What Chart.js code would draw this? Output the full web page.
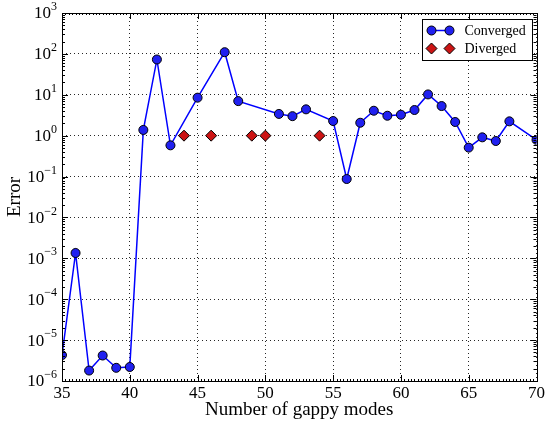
<!DOCTYPE html>
<html>
<head>
<meta charset="utf-8">
<script src="https://cdn.jsdelivr.net/npm/chart.js@4"></script>
<style>
  body { margin: 0; background: #fff; }
  canvas { display: block; }
</style>
</head>
<body>
<canvas id="gappyChart" width="547" height="422"></canvas>
<script>
const convergedModes = [35, 36, 37, 38, 39, 40, 41, 42, 43, 45, 47, 48, 51, 52, 53,
  55, 56, 57, 58, 59, 60, 61, 62, 63, 64, 65, 66, 67, 68, 70];
const convergedError = [4.3e-6, 1.35e-3, 1.8e-6, 4.2e-6, 2.1e-6, 2.2e-6, 1.38, 73, 0.58,
  8.5, 110, 7.0, 3.4, 3.0, 4.4, 2.28, 0.087, 2.07, 4.07, 3.07, 3.25, 4.24, 10.2, 5.3,
  2.16, 0.51, 0.91, 0.74, 2.24, 0.79];

const divergedModes = [44, 46, 49, 50, 54];
const divergedError = [1, 1, 1, 1, 1];

const modeTicks = [35, 40, 45, 50, 55, 60, 65, 70];
const errorTicks = [-6, -5, -4, -3, -2, -1, 0, 1, 2, 3];

const serif = "'Liberation Serif', 'DejaVu Serif', serif";
const blue = "#0000ff";
const red = "#cc1414";

// frame, inward ticks, superscript y labels and the legend box
const axesDecor = {
  id: "axesDecor",
  afterDraw(chart) {
    const { ctx, chartArea: a, scales: { x, y } } = chart;
    ctx.save();
    ctx.strokeStyle = "#000";
    ctx.lineWidth = 1;
    ctx.setLineDash([]);

    ctx.beginPath();
    // minor ticks along top and bottom
    for (let v = modeTicks[0]; v <= modeTicks[modeTicks.length - 1]; v += 0.25) {
      const px = Math.round(x.getPixelForValue(v)) + 0.5;
      ctx.moveTo(px, a.top); ctx.lineTo(px, a.top + 2);
      ctx.moveTo(px, a.bottom); ctx.lineTo(px, a.bottom - 2);
    }
    modeTicks.forEach((v) => {
      const px = Math.round(x.getPixelForValue(v)) + 0.5;
      ctx.moveTo(px, a.top); ctx.lineTo(px, a.top + 6);
      ctx.moveTo(px, a.bottom); ctx.lineTo(px, a.bottom - 6);
    });
    // decade and minor log ticks on the left and right
    errorTicks.forEach((d) => {
      const py = Math.round(y.getPixelForValue(Math.pow(10, d))) + 0.5;
      ctx.moveTo(a.left, py); ctx.lineTo(a.left + 6, py);
      ctx.moveTo(a.right, py); ctx.lineTo(a.right - 6, py);
      if (d === errorTicks[errorTicks.length - 1]) return;
      for (let k = 2; k <= 9; k++) {
        const my = Math.round(y.getPixelForValue(k * Math.pow(10, d))) + 0.5;
        ctx.moveTo(a.left, my); ctx.lineTo(a.left + 3, my);
        ctx.moveTo(a.right, my); ctx.lineTo(a.right - 3, my);
      }
    });
    ctx.stroke();
    ctx.strokeRect(Math.round(a.left) + 0.5, Math.round(a.top) + 0.5,
      Math.round(a.right - a.left), Math.round(a.bottom - a.top));

    // y tick labels as 10 with a superscript exponent
    ctx.fillStyle = "#000";
    ctx.textBaseline = "middle";
    ctx.textAlign = "left";
    errorTicks.forEach((d) => {
      const py = y.getPixelForValue(Math.pow(10, d));
      const exp = d < 0 ? "\u2212" + Math.abs(d) : String(d);
      ctx.font = "12px " + serif;
      const ew = ctx.measureText(exp).width;
      ctx.font = "17px " + serif;
      const bw = ctx.measureText("10").width;
      const right = a.left - 5;
      ctx.fillText("10", right - ew - bw, py + 1);
      ctx.font = "12px " + serif;
      ctx.fillText(exp, right - ew, py - 6);
    });

    // y axis title
    ctx.save();
    ctx.translate(15, (a.top + a.bottom) / 2);
    ctx.rotate(-Math.PI / 2);
    ctx.textAlign = "center";
    ctx.font = "19px " + serif;
    ctx.fillText("Error", 0, 0);
    ctx.restore();

    // legend
    const lx = 422.5, ly = 19.5, lw = 110, lh = 41;
    ctx.fillStyle = "#fff";
    ctx.fillRect(lx, ly, lw, lh);
    ctx.strokeRect(lx, ly, lw, lh);
    const rows = [
      { label: "Converged", y: ly + 11, kind: "circle" },
      { label: "Diverged", y: ly + 29, kind: "diamond" }
    ];
    rows.forEach((r) => {
      if (r.kind === "circle") {
        ctx.strokeStyle = blue;
        ctx.lineWidth = 1.5;
        ctx.beginPath();
        ctx.moveTo(lx + 9, r.y); ctx.lineTo(lx + 27, r.y);
        ctx.stroke();
      }
      [lx + 9, lx + 27].forEach((cx) => {
        ctx.beginPath();
        if (r.kind === "circle") {
          ctx.arc(cx, r.y, 4.5, 0, Math.PI * 2);
          ctx.fillStyle = "#2020f0";
        } else {
          ctx.moveTo(cx, r.y - 5.5); ctx.lineTo(cx + 5.5, r.y);
          ctx.lineTo(cx, r.y + 5.5); ctx.lineTo(cx - 5.5, r.y);
          ctx.closePath();
          ctx.fillStyle = red;
        }
        ctx.fill();
        ctx.strokeStyle = "#000";
        ctx.lineWidth = 1;
        ctx.stroke();
      });
      ctx.fillStyle = "#000";
      ctx.font = "14px " + serif;
      ctx.textAlign = "left";
      ctx.fillText(r.label, lx + 42, r.y + 1);
    });
    ctx.restore();
  }
};

const ctx = document.getElementById("gappyChart").getContext("2d");

new Chart(ctx, {
  type: "line",
  data: {
    datasets: [
      {
        label: "Converged",
        data: convergedModes.map((m, i) => ({ x: m, y: convergedError[i] })),
        borderColor: blue,
        borderWidth: 1.5,
        backgroundColor: "#2020f0",
        pointRadius: 4.5,
        pointBackgroundColor: "#2020f0",
        pointBorderColor: "#000",
        pointBorderWidth: 1,
        tension: 0,
        clip: 0
      },
      {
        label: "Diverged",
        data: divergedModes.map((m, i) => ({ x: m, y: divergedError[i] })),
        showLine: false,
        pointStyle: "rectRot",
        pointRadius: 5.5,
        pointBackgroundColor: red,
        pointBorderColor: "#000",
        pointBorderWidth: 1,
        clip: 0
      }
    ]
  },
  options: {
    responsive: false,
    animation: false,
    layout: { padding: { top: 13, right: 9, left: 0, bottom: 0 } },
    plugins: {
      legend: { display: false },
      tooltip: { enabled: false }
    },
    scales: {
      x: {
        type: "linear",
        min: 35,
        max: 70,
        afterBuildTicks: (s) => { s.ticks = modeTicks.map((v) => ({ value: v })); },
        afterFit: (s) => { s.height = 41; },
        ticks: {
          color: "#000",
          padding: 2,
          font: { family: serif, size: 17 }
        },
        grid: { color: "rgba(0,0,0,0.85)", lineWidth: 1, drawTicks: false },
        border: { display: false, dash: [1, 3] },
        title: {
          display: true,
          text: "Number of gappy modes",
          color: "#000",
          font: { family: serif, size: 19 },
          padding: { top: 0, bottom: 1 }
        }
      },
      y: {
        type: "logarithmic",
        min: 1e-6,
        max: 1e3,
        afterBuildTicks: (s) => { s.ticks = errorTicks.map((d) => ({ value: Math.pow(10, d) })); },
        afterFit: (s) => { s.width = 62; },
        ticks: { display: false },
        grid: { color: "rgba(0,0,0,0.85)", lineWidth: 1, drawTicks: false },
        border: { display: false, dash: [1, 3] }
      }
    }
  },
  plugins: [axesDecor]
});
</script>
</body>
</html>
